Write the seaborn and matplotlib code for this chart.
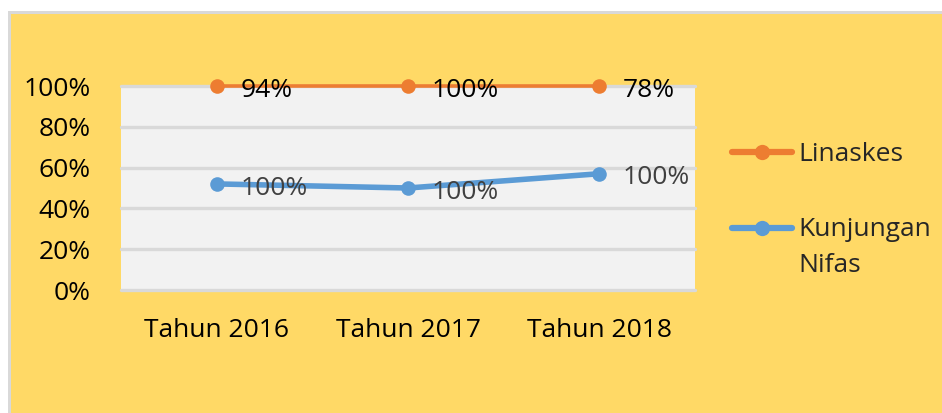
import matplotlib
matplotlib.use('Agg')
import matplotlib.pyplot as plt
import seaborn as sns
import pandas as pd
import numpy as np
from matplotlib.patches import Rectangle
from matplotlib.lines import Line2D

# ---- data ----
categories = ['Tahun 2016', 'Tahun 2017', 'Tahun 2018']
series_names = ['Linaskes', 'Kunjungan\nNifas']
linaskes_pos = [1.00, 1.00, 1.00]
nifas_pos = [0.52, 0.50, 0.57]
linaskes_labels = ['94%', '100%', '78%']
nifas_labels = ['100%', '100%', '100%']
y_ticks = [0.0, 0.2, 0.4, 0.6, 0.8, 1.0]
y_tick_labels = ['0%', '20%', '40%', '60%', '80%', '100%']

ORANGE = '#ED7D31'
BLUE = '#5B9BD5'
YELLOW = '#FFD966'

sns.set_theme(style='white')
plt.rcParams['font.family'] = ['Open Sans', 'DejaVu Sans']

W, H = 942, 413
fig = plt.figure(figsize=(W / 100, H / 100), dpi=100, facecolor='white')
fig.patches.append(Rectangle((8 / W, 0), 1 - 8 / W, 1 - 11 / H, transform=fig.transFigure,
                             facecolor='#D9D9D9', edgecolor='none', zorder=-10))
fig.patches.append(Rectangle((11 / W, 0), 1 - 11 / W, 1 - 14 / H, transform=fig.transFigure,
                             facecolor=YELLOW, edgecolor='none', zorder=-9))

ax = fig.add_axes([121 / W, 1 - 290 / H, 574 / W, 204 / H])
ax.set_facecolor('#F2F2F2')

df = pd.DataFrame({
    'Tahun': categories * 2,
    'Nilai': linaskes_pos + nifas_pos,
    'Seri': [series_names[0]] * len(categories) + [series_names[1]] * len(categories),
})

styles = {series_names[0]: (ORANGE, 2.6), series_names[1]: (BLUE, 4.0)}
for name in series_names:
    col, lw = styles[name]
    sns.lineplot(data=df[df['Seri'] == name], x='Tahun', y='Nilai', color=col,
                 linewidth=lw, marker='o', markersize=10.5, markeredgewidth=0,
                 sort=False, legend=False, ax=ax, zorder=3)
for line in ax.lines:
    line.set_clip_on(False)

for i, (v, lab) in enumerate(zip(linaskes_pos, linaskes_labels)):
    ax.annotate(lab, (i, v), xytext=(17, -3), textcoords='offset points', ha='left',
                va='center', fontsize=19, color='black', annotation_clip=False, zorder=4)
for i, (v, lab) in enumerate(zip(nifas_pos, nifas_labels)):
    ax.annotate(lab, (i, v), xytext=(17, -3), textcoords='offset points', ha='left',
                va='center', fontsize=19, color='#404040', annotation_clip=False, zorder=4)

ax.set_xlim(-0.5, len(categories) - 0.5)
ax.set_ylim(0, 1)
ax.set_xticks(range(len(categories)))
ax.set_xticklabels(categories)
ax.set_yticks(y_ticks)
ax.set_yticklabels(y_tick_labels)
ax.set_xlabel('')
ax.set_ylabel('')
ax.tick_params(axis='both', length=0, labelsize=19, labelcolor='black')
ax.tick_params(axis='y', pad=22)
ax.tick_params(axis='x', pad=20)
ax.grid(axis='y', color='#D9D9D9', linewidth=2.4)
ax.grid(axis='x', visible=False)
for line in ax.get_ygridlines():
    line.set_clip_on(False)
for s in ax.spines.values():
    s.set_visible(False)

handles = [Line2D([], [], color=ORANGE, lw=4.5, marker='o', markersize=11, markeredgewidth=0),
           Line2D([], [], color=BLUE, lw=4.5, marker='o', markersize=11, markeredgewidth=0)]
leg = fig.legend(handles, series_names, loc='upper left', bbox_to_anchor=(732 / W, 1 - 142 / H),
                 frameon=False, fontsize=19, handlelength=2.27, handletextpad=0.25,
                 labelspacing=1.89, borderpad=0, borderaxespad=0)
for t in leg.get_texts():
    t.set_linespacing(1.56)
# align the multi-line entry's handle with its first text line
fig.canvas.draw()
legline = leg.get_lines()[1]
shift = 14.0
legline.set_ydata(np.asarray(legline.get_ydata()) + shift)

fig.savefig('out.png', dpi=100, facecolor='white')
